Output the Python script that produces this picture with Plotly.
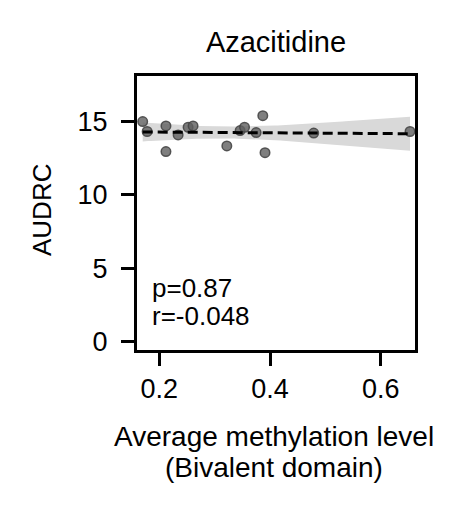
import numpy as np
import plotly.graph_objects as go

# Data
methylation = [0.170, 0.178, 0.212, 0.212, 0.234, 0.252, 0.261, 0.322, 0.346, 0.354, 0.375, 0.387, 0.391, 0.479, 0.653]
audrc = [15.0, 14.32, 14.70, 12.95, 14.09, 14.61, 14.70, 13.34, 14.38, 14.61, 14.25, 15.4, 12.88, 14.21, 14.32]
title_text = "Azacitidine"
stats_lines = ["p=0.87", "r=-0.048"]
xlabel_lines = ["Average methylation level", "(Bivalent domain)"]
ylabel_text = "AUDRC"
y_ticks = [0, 5, 10, 15]
x_ticks = [0.2, 0.4, 0.6]

x = np.array(methylation)
y = np.array(audrc)
n = len(x)
slope, intercept = np.polyfit(x, y, 1)
xs = np.linspace(x.min(), x.max(), 100)
ys = intercept + slope * xs
resid = y - (intercept + slope * x)
s = np.sqrt(np.sum(resid**2) / (n - 2))
tval = 2.160  # t(0.975, 13)
se = s * np.sqrt(1 / n + (xs - x.mean())**2 / np.sum((x - x.mean())**2))
lo = ys - tval * se
hi = ys + tval * se

FONT = "Liberation Sans, Arial, sans-serif"
W, H = 467, 513
L, R, T, B = 137, 52, 76, 163
PH = H - T - B
PW = W - L - R

fig = go.Figure()
fig.add_trace(go.Scatter(x=np.concatenate([xs, xs[::-1]]), y=np.concatenate([hi, lo[::-1]]),
                         fill="toself", fillcolor="rgb(217,217,217)", line=dict(width=0),
                         mode="lines", hoverinfo="skip", showlegend=False))
fig.add_trace(go.Scatter(x=x, y=y, mode="markers",
                         marker=dict(size=9.5, color="rgba(95,95,95,0.8)",
                                     line=dict(width=1.5, color="rgba(70,70,70,0.9)")),
                         showlegend=False))
fig.add_trace(go.Scatter(x=xs, y=ys, mode="lines",
                         line=dict(color="black", width=3, dash="10px,5px"),
                         showlegend=False))

axis_common = dict(showline=True, linecolor="black", linewidth=3, mirror=True,
                   ticks="outside", ticklen=13, tickwidth=3, tickcolor="black",
                   showgrid=False, zeroline=False,
                   tickfont=dict(family=FONT, size=27, color="black"))

fig.update_xaxes(range=[0.1597, 0.662], tickvals=x_ticks, ticktext=[f"{v:.1f}" for v in x_ticks],
                 ticklabelstandoff=0, **axis_common)
fig.update_yaxes(range=[-0.56, 18.1], tickvals=y_ticks, ticklabelstandoff=8, **axis_common)

# stats text (two lines)
for line, base in zip(stats_lines, [297.5, 325.0]):
    mid = base - 0.3465 * 26
    fig.add_annotation(x=(151 - L) / PW, y=(H - B - mid) / PH, xref="paper", yref="paper",
                       xanchor="left", yanchor="middle", text=line, showarrow=False,
                       font=dict(family=FONT, size=26, color="black"), borderpad=0)

# x-axis label (two lines)
for line, base in zip(xlabel_lines, [446.0, 477.0]):
    mid = base - 0.3465 * 28
    fig.add_annotation(x=(273.5 - L) / PW, y=(H - B - mid) / PH, xref="paper", yref="paper",
                       xanchor="center", yanchor="middle", text=line, showarrow=False,
                       font=dict(family=FONT, size=28, color="black"), borderpad=0)

# y-axis label
fig.add_annotation(x=(42 - L) / PW, y=(H - B - 210) / PH, xref="paper", yref="paper",
                   xanchor="center", yanchor="middle", text=ylabel_text, textangle=-90,
                   showarrow=False, font=dict(family=FONT, size=26, color="black"), borderpad=0)

fig.update_layout(
    width=W, height=H,
    margin=dict(l=L, r=R, t=T, b=B),
    paper_bgcolor="white", plot_bgcolor="white",
    title=dict(text=title_text, x=276 / W, xanchor="center", xref="container",
               y=1 - (52.3 - 0.3465 * 29) / H, yanchor="middle",
               font=dict(family=FONT, size=29, color="black")),
)

fig.write_html("out.html")
